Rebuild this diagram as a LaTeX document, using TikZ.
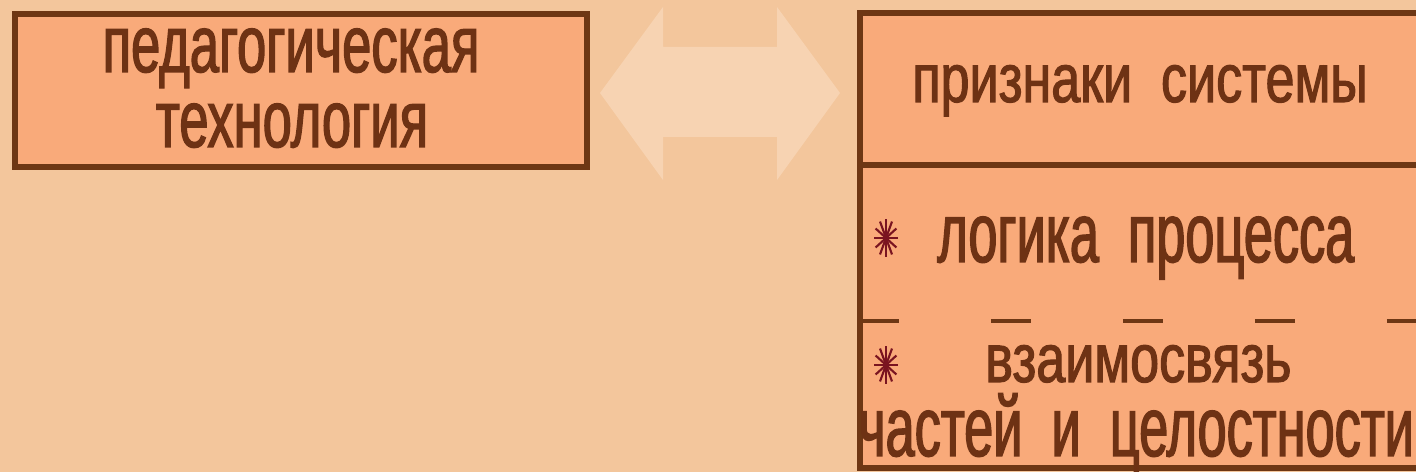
\documentclass[tikz,border=0pt]{standalone}
\usepackage{fontspec}
\setmainfont{Liberation Sans}
\newfontfamily\leftface{Liberation Sans}[FakeStretch=0.65, FakeBold=1.6]
\newfontfamily\itemface{Liberation Sans}[FakeStretch=0.62, FakeBold=1.6]
\newfontfamily\headface{Liberation Sans}[FakeStretch=0.76, FakeBold=1.6]
\usepackage{tikz}
\usetikzlibrary{positioning}
\definecolor{pagetan}{HTML}{F3C69C}
\definecolor{boxsalmon}{HTML}{F9AA7A}
\definecolor{edgebrown}{HTML}{6E3714}
\definecolor{inkbrown}{HTML}{6E3214}
\definecolor{arrowcream}{HTML}{F8D6B6}
\definecolor{starred}{HTML}{7A1420}

\tikzset{
  boxedge/.style={draw=edgebrown, line width=3.4pt},
  lefttext/.style={anchor=base, inner sep=0pt, text=inkbrown, font=\leftface\fontsize{46}{46}\selectfont},
  headtext/.style={anchor=base, inner sep=0pt, text=inkbrown, font=\headface\fontsize{39}{39}\selectfont},
  itemtext/.style={anchor=base, inner sep=0pt, text=inkbrown, font=\itemface\fontsize{48}{48}\selectfont}
}

\begin{document}
\begin{tikzpicture}[x=0.02cm, y=-0.02cm]

  % background
  \fill[pagetan] (0,0) rectangle (1416,472);
  \useasboundingbox (0,0) rectangle (1416,472);

  % ================= LEFT BOX =================
  \fill[boxsalmon] (15,14) rectangle (587,167);
  \draw[boxedge] (15,14) rectangle (587,167);
  \node[lefttext] (ped) at (291,72) {педагогическая};
  \node[lefttext] (tech) at (292,147) {технология};

  % ================= DOUBLE ARROW =================
  \coordinate (mid) at (720,93);
  \fill[arrowcream, opacity=0.85] (600,93) -- (663,7) -- (663,47) -- (777,47) -- (777,7)
    -- (840,93) -- (777,180) -- (777,137) -- (663,137) -- (663,180) -- cycle;

  % ================= RIGHT BOX =================
  \fill[boxsalmon] (860,13) rectangle (1430,468);
  \draw[boxedge] (1430,13) -- (860,13) -- (860,468) -- (1430,468);
  \draw[boxedge] (860,165) -- (1430,165);
  \draw[draw=edgebrown, line width=2.5pt, dash pattern=on 0.8cm off 1.84cm] (859,321) -- (1430,321);

  \node[headtext] (sign) at (1140,102) {признаки\ \ системы};
  \node[itemtext, anchor=base west] (logic) at (937,262) {логика\ \ процесса};
  \node[headtext, anchor=base west] (link) at (985,382) {взаимосвязь};
  \node[itemtext, anchor=base west] (parts) at (858,456) {частей\ \ и\ \ целостности};

  % bullets
  \foreach \y in {238,365}
    \foreach \a in {0,30,...,150}
      \draw[starred, line width=1.2pt] (886,\y) ++(\a:12 and 19) -- ++(\a+180:24 and 38);

\end{tikzpicture}
\end{document}
